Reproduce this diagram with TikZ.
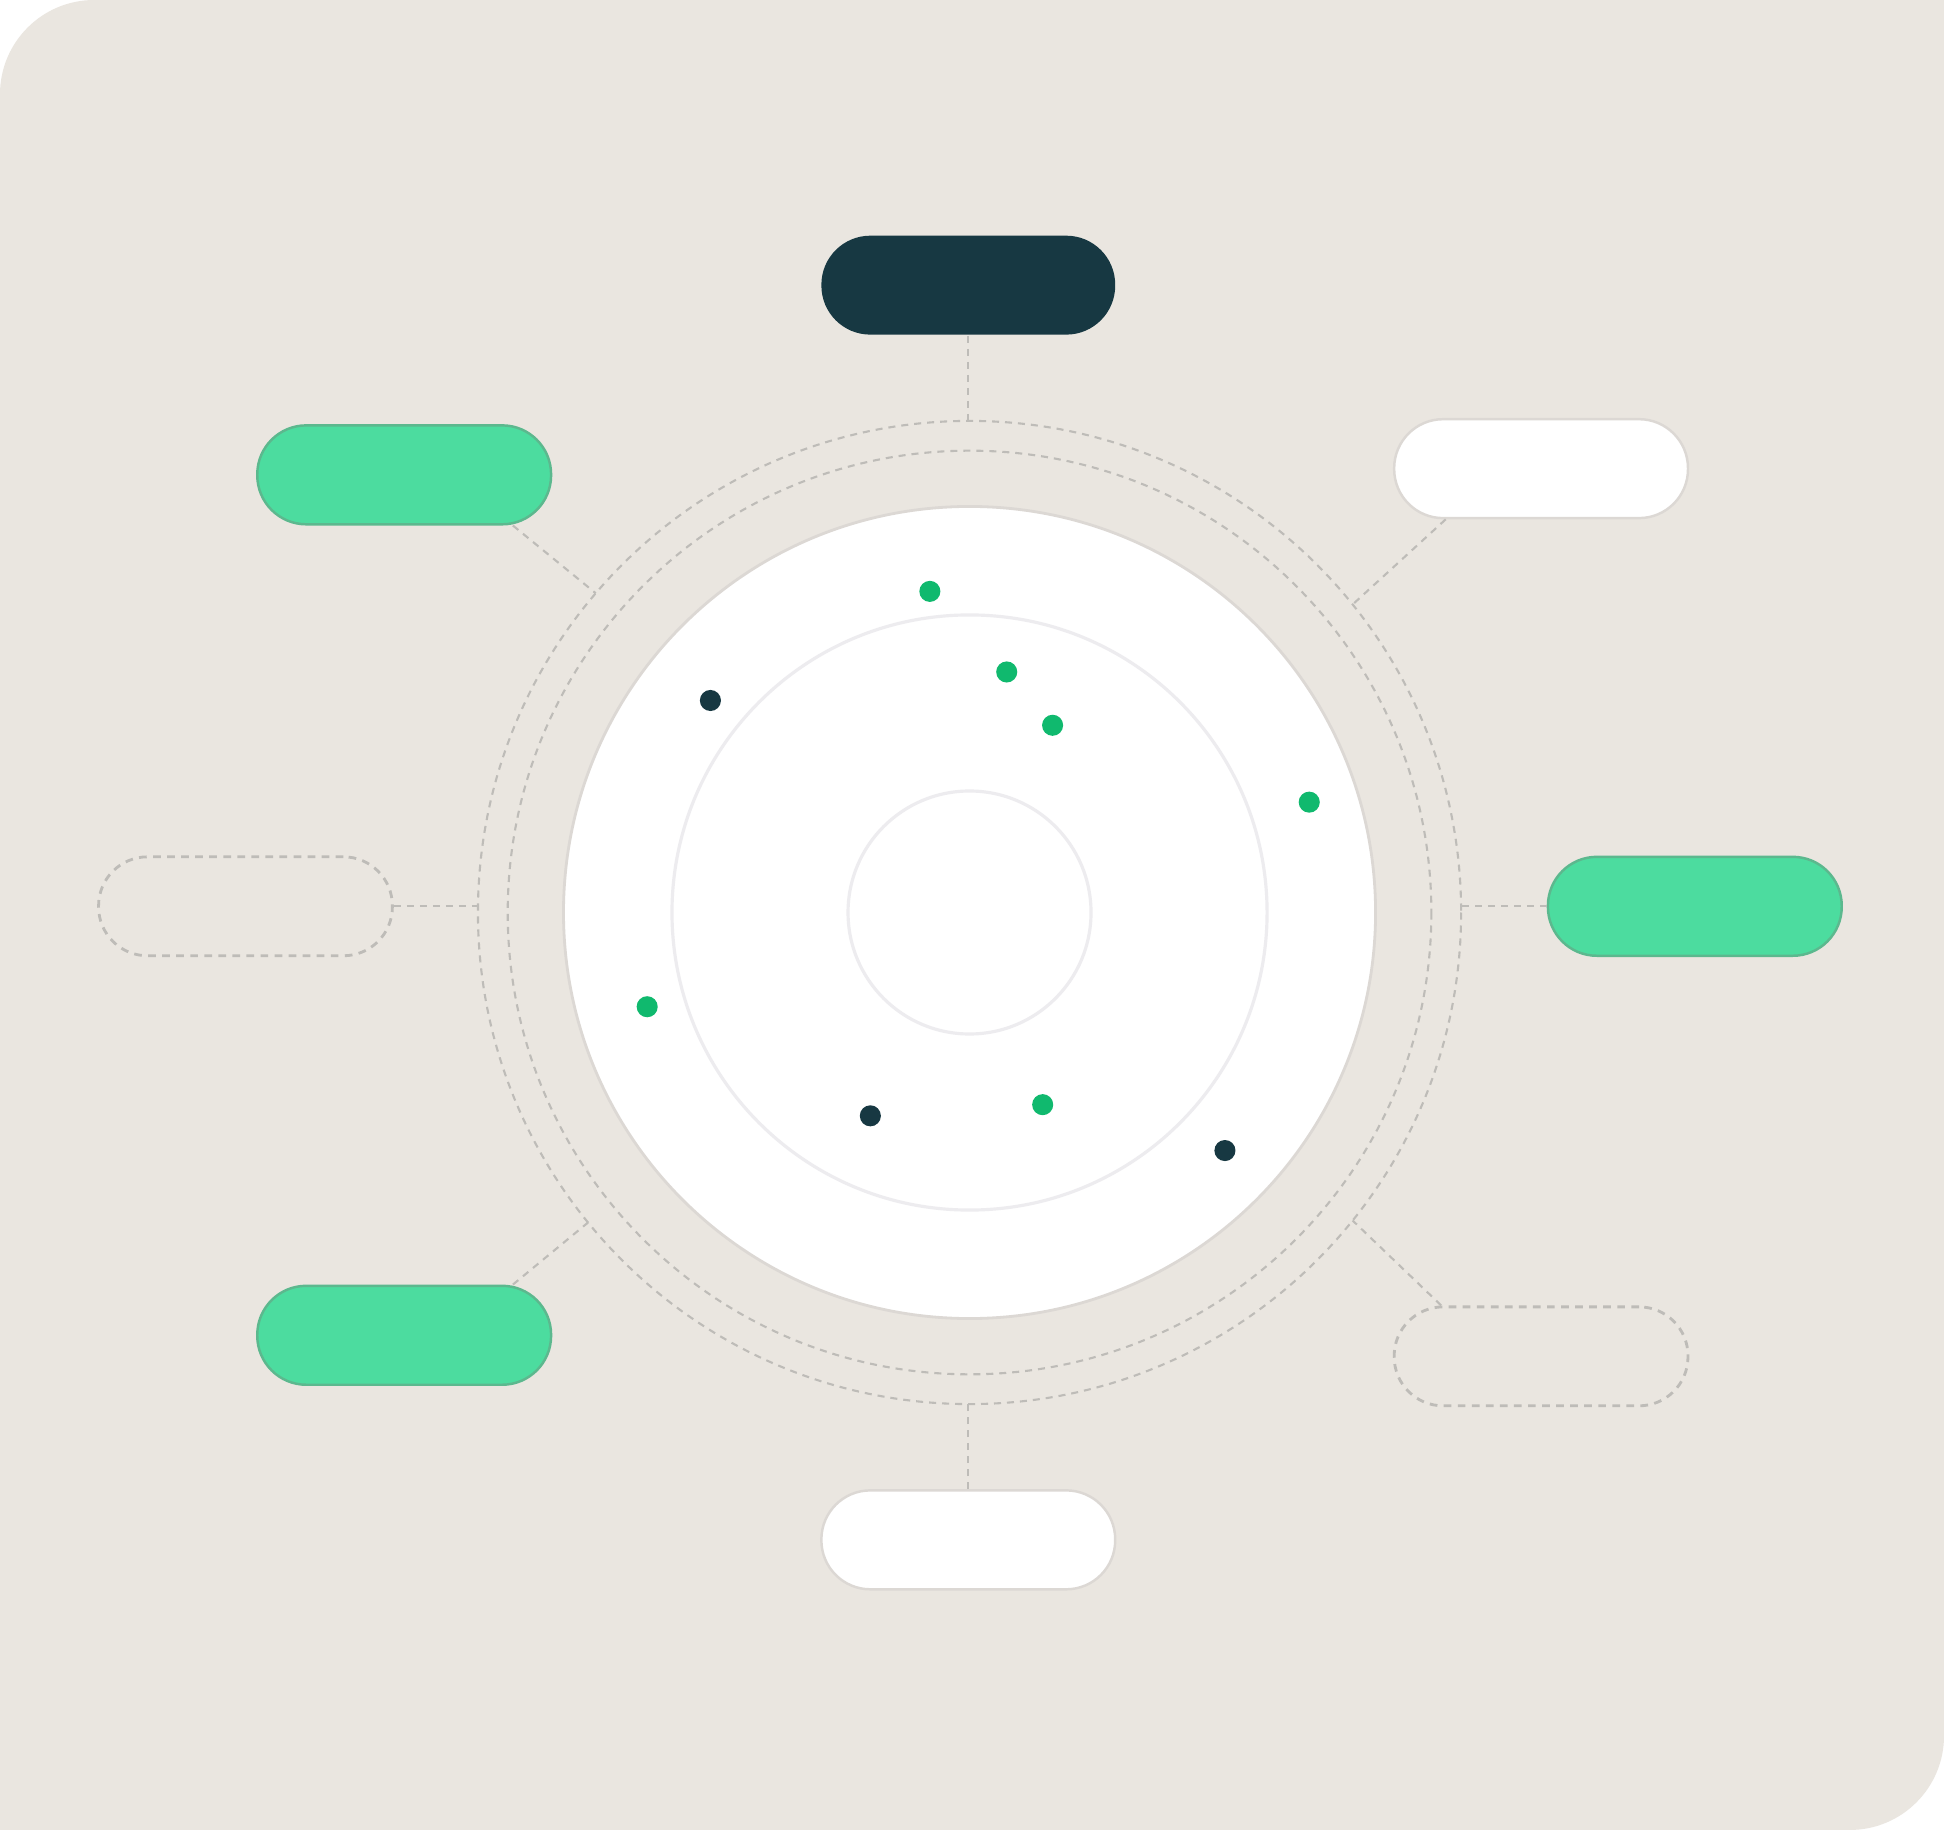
\documentclass[tikz,border=0pt]{standalone}
\usetikzlibrary{calc}
\definecolor{paper}{HTML}{EAE6E0}
\definecolor{ink}{HTML}{173842}
\definecolor{mint}{HTML}{4CDC9F}
\definecolor{mintedge}{HTML}{5CB88E}
\definecolor{dotgreen}{HTML}{10B96E}
\definecolor{dashgray}{HTML}{BEBCB8}
\definecolor{rimgray}{HTML}{DCD8D4}
\definecolor{faint}{HTML}{EDECEF}
\begin{document}
\begin{tikzpicture}[x={(0.012398cm,0cm)}, y={(0cm,-0.012398cm)},
    pill/.style={rounded corners=0.49cm, minimum width=2.94cm, minimum height=0.99cm, inner sep=0pt, line width=0.7pt},
    darkpill/.style={pill, fill=ink},
    greenpill/.style={pill, fill=mint, draw=mintedge},
    whitepill/.style={pill, fill=white, draw=rimgray},
    emptypill/.style={pill, draw=dashgray, line width=0.8pt, dash pattern=on 2.2pt off 1.8pt},
    ringline/.style={draw=dashgray, line width=0.6pt, dash pattern=on 2pt off 1.7pt}]
    \def\cx{782}
    \def\cy{736}
    \def\rout{396.5}
    \def\rin{372.5}
    \def\rdisc{327.5}
    \def\rmid{240}
    \def\rcore{98}
    \def\rdot{8.5}
    \useasboundingbox (0,0) rectangle (1568,1476);
    \fill[white] (0,0) rectangle (1568,1476);
    % card
    \fill[paper] (0,1476) -- (0,76) arc[start angle=180, end angle=270, radius=76] -- (1568,0)
        -- (1568,1400) arc[start angle=0, end angle=90, radius=76] -- cycle;
    \coordinate (ctr) at (\cx,\cy);
    % dashed orbits
    \draw[ringline] (ctr) circle[radius=\rout];
    \draw[ringline] (ctr) circle[radius=\rin];
    % disc and inner rings
    \draw[fill=white, draw=rimgray, line width=0.8pt] (ctr) circle[radius=\rdisc];
    \draw[faint, line width=0.9pt] (ctr) circle[radius=\rmid];
    \draw[faint, line width=0.9pt] (ctr) circle[radius=\rcore];
    % dots
    \foreach \px/\py in {750/477, 812/542, 849/585, 1056/647, 522/812, 841/891}
        \fill[dotgreen] (\px,\py) circle[radius=\rdot];
    \foreach \px/\py in {573/565, 702/900, 988/928}
        \fill[ink] (\px,\py) circle[radius=\rdot];
    % pills
    \node[darkpill] (pillTop) at (781,230) {};
    \node[greenpill] (pillTL) at (326,383) {};
    \node[whitepill] (pillTR) at (1243,378) {};
    \node[emptypill] (pillL) at (198,731) {};
    \node[greenpill] (pillR) at (1367,731) {};
    \node[greenpill] (pillBL) at (326,1077) {};
    \node[emptypill] (pillBR) at (1243,1094) {};
    \node[whitepill] (pillB) at (781,1242) {};
    % anchor points on the outer orbit
    \coordinate (oTop) at ($(ctr)+(270:\rout)$);
    \coordinate (oTL) at ($(ctr)+(220.5:\rout)$);
    \coordinate (oTR) at ($(ctr)+(321.2:\rout)$);
    \coordinate (oL) at ($(ctr)+(180:\rout)$);
    \coordinate (oR) at ($(ctr)+(0:\rout)$);
    \coordinate (oBL) at ($(ctr)+(140.9:\rout)$);
    \coordinate (oBR) at ($(ctr)+(38.8:\rout)$);
    \coordinate (oB) at ($(ctr)+(90:\rout)$);
    % links
    \draw[ringline] (pillTop.south) -- (pillTop.south |- oTop);
    \draw[ringline] (pillTL.-25) -- (oTL);
    \draw[ringline] (pillTR.208) -- (oTR);
    \draw[ringline] (pillL.east) -- (pillL.east -| oL);
    \draw[ringline] (pillR.west) -- (pillR.west -| oR);
    \draw[ringline] (pillBL.25) -- (oBL);
    \draw[ringline] (pillBR.153) -- (oBR);
    \draw[ringline] (pillB.north) -- (pillB.north |- oB);
\end{tikzpicture}
\end{document}
